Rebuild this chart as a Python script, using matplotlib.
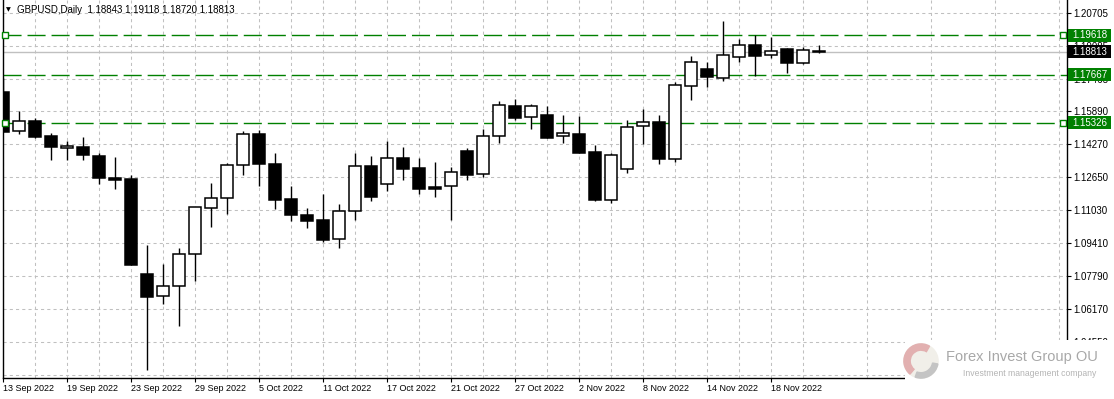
import numpy as np
import pandas as pd
import matplotlib
matplotlib.use("Agg")
import matplotlib.pyplot as plt
from matplotlib.patches import Rectangle, Wedge, Circle
from matplotlib.transforms import blended_transform_factory

# GBPUSD daily candles, 13 Sep 2022 - 23 Nov 2022
opens = [1.1683, 1.1490, 1.1539, 1.1467, 1.1406, 1.1411, 1.1368, 1.1262, 1.1255, 1.0789,
         1.0679, 1.0729, 1.0886, 1.1112, 1.1161, 1.1323, 1.1475, 1.1329, 1.1157, 1.1079,
         1.1054, 1.0959, 1.1097, 1.1318, 1.1229, 1.1357, 1.1308, 1.1215, 1.1219, 1.1391,
         1.1278, 1.1465, 1.1614, 1.1558, 1.1570, 1.1465, 1.1476, 1.1388, 1.1151, 1.1303,
         1.1514, 1.1535, 1.1355, 1.1714, 1.1794, 1.1753, 1.1853, 1.1913, 1.1863, 1.1892,
         1.1823, 1.18843]
highs = [1.1751, 1.1589, 1.1553, 1.1481, 1.1442, 1.1462, 1.1383, 1.1363, 1.1275, 1.0931,
         1.0838, 1.0915, 1.1118, 1.1236, 1.1334, 1.1491, 1.1496, 1.1383, 1.1221, 1.1113,
         1.1182, 1.1133, 1.1385, 1.1368, 1.1442, 1.1413, 1.1359, 1.1339, 1.1314, 1.1406,
         1.1501, 1.1638, 1.1648, 1.1624, 1.1615, 1.1570, 1.1565, 1.1422, 1.1383, 1.1545,
         1.1599, 1.1570, 1.1732, 1.1859, 1.1828, 1.2031, 1.1943, 1.1962, 1.1951, 1.1899,
         1.1905, 1.19118]
lows = [1.1486, 1.1478, 1.1457, 1.1350, 1.1350, 1.1350, 1.1231, 1.1208, 1.0833, 1.0318,
        1.0642, 1.0535, 1.0756, 1.1021, 1.1082, 1.1277, 1.1222, 1.1108, 1.1051, 1.1016,
        1.0946, 1.0918, 1.1054, 1.1149, 1.1198, 1.1252, 1.1183, 1.1169, 1.1056, 1.1252,
        1.1267, 1.1431, 1.1547, 1.1502, 1.1458, 1.1434, 1.1385, 1.1149, 1.1139, 1.1286,
        1.1429, 1.1331, 1.1340, 1.1645, 1.1707, 1.1738, 1.1828, 1.1763, 1.1851, 1.1777,
        1.1819, 1.18720]
closes = [1.1488, 1.1539, 1.1463, 1.1414, 1.1417, 1.1375, 1.1262, 1.1252, 1.0835, 1.0677,
          1.0729, 1.0886, 1.1116, 1.1161, 1.1323, 1.1475, 1.1328, 1.1154, 1.1080, 1.1051,
          1.0957, 1.1097, 1.1318, 1.1169, 1.1357, 1.1306, 1.1208, 1.1208, 1.1288, 1.1277,
          1.1465, 1.1617, 1.1556, 1.1614, 1.1458, 1.1480, 1.1385, 1.1154, 1.1372, 1.1509,
          1.1535, 1.1355, 1.1715, 1.1828, 1.1755, 1.1863, 1.1912, 1.1861, 1.1882, 1.1823,
          1.1887, 1.18813]

dates = pd.bdate_range("2022-09-13", periods=len(opens))
date_labels = [f"{d.day} {d:%b %Y}" for d in dates]

price_ticks = [1.20705, 1.19085, 1.17465, 1.15890, 1.14270, 1.12650, 1.11030,
               1.09410, 1.07790, 1.06170, 1.04550, 1.02930]
# horizontal lines drawn on the chart
level_lines = [1.19618, 1.17667, 1.15326]
bid = closes[-1]

W, H = 1114, 399
fig = plt.figure(figsize=(W / 100, H / 100), dpi=100)
ax = fig.add_axes([3 / W, 21 / H, 1064 / W, 378 / H])
ymin, ymax = 1.02786, 1.21343
ax.set_xlim(0, 66.5)
ax.set_ylim(ymin, ymax)
px = (ymax - ymin) / 378  # one pixel in price units

x = np.arange(len(opens))
o = np.array(opens)
c = np.array(closes)

# grid
ax.set_xticks(x[::4])
ax.set_xticks(np.arange(2, 67, 4), minor=True)
ax.set_xticklabels([date_labels[i] for i in x[::4]], ha="left")
ax.set_yticks(price_ticks)
# lowest grid line sits under the logo, no label there
ax.set_yticklabels([f"{p:.5f}" for p in price_ticks[:-1]] + [""])
ax.grid(True, which="both", color="#c0c0c0", linestyle=(0, (3, 3)), linewidth=0.75)
ax.set_axisbelow(True)

ax.yaxis.tick_right()
ax.tick_params(axis="y", length=3, width=0.8, labelsize=7, pad=1.5)
ax.tick_params(axis="x", which="major", length=3, width=0.8, labelsize=6.5, pad=1.5)
ax.tick_params(axis="x", which="minor", length=0)
for lab in ax.get_xticklabels() + ax.get_yticklabels():
    lab.set_family("Liberation Sans")
ax.spines["top"].set_visible(False)
for s in ["left", "right", "bottom"]:
    ax.spines[s].set_linewidth(1.0)

# bid line
ax.axhline(bid, color="#c0c0c0", lw=1.0, zorder=1)

# level lines
for lv in level_lines:
    ax.axhline(lv, color="#008000", lw=1.0, linestyle=(0, (13, 4.3)), zorder=2)
for lv in [level_lines[0], level_lines[2]]:
    ax.plot([0.125, 66.25], [lv, lv], "s", ms=4, mfc="white", mec="#008000", mew=1.0,
            zorder=6, clip_on=False)

# candles
ax.vlines(x, lows, highs, color="black", lw=1.0, zorder=3)
bottoms = np.minimum(o, c)
heights = np.abs(c - o)
colors = ["white" if cc > oo else "black" for oo, cc in zip(o, c)]
ax.bar(x, heights, bottom=bottoms, width=0.69, color=colors, edgecolor="black",
       linewidth=1.1, zorder=4)

# price boxes on the right scale
tr = blended_transform_factory(ax.transAxes, ax.transData)
boxes = [(level_lines[0], "#008000"), (bid, "black"), (level_lines[1], "#008000"),
         (level_lines[2], "#008000")]
for p, col in boxes:
    ax.add_patch(Rectangle((1 + 1 / 1064, p - 6.5 * px), 43 / 1064, 13 * px,
                           transform=tr, facecolor=col, edgecolor="none",
                           clip_on=False, zorder=10))
    ax.text(1 + 5 / 1064, p, f"{p:.5f}", transform=tr, color="white", fontsize=7,
            family="Liberation Sans", va="center", ha="left", zorder=11, clip_on=False)

# title
fig.text(6 / W, 1 - 10 / H, "\u25bc", fontsize=4.5, va="center", ha="left")
fig.text(17 / W, 1 - 10 / H,
         f"GBPUSD,Daily  {opens[-1]:.5f} {highs[-1]:.5f} {lows[-1]:.5f} {closes[-1]:.5f}",
         fontsize=7, family="Liberation Sans", va="center", ha="left")

# watermark logo area
fig.add_artist(Rectangle((905 / W, 0), 1 - 905 / W, 59 / H, transform=fig.transFigure,
                         facecolor="white", edgecolor="none", zorder=5))
lax = fig.add_axes([903 / W, 20 / H, 36 / W, 36 / H], zorder=6)
lax.set_xlim(-1, 1)
lax.set_ylim(-1, 1)
lax.axis("off")
lax.add_patch(Circle((0, 0), 0.95, color="#f1efe9"))
lax.add_patch(Wedge((0, 0), 0.95, 60, 230, width=0.35, color="#e2b0b0"))
lax.add_patch(Wedge((0, 0), 0.95, 250, 350, width=0.3, color="#c4c4c4"))

fig.text(946 / W, 1 - 357 / H, "Forex Invest Group OU", fontsize=10.5,
         family="Liberation Sans", color="#a8a8a8", va="center", ha="left", zorder=7)
fig.text(963 / W, 1 - 373 / H, "Investment management company", fontsize=6.2,
         family="Liberation Sans", color="#b4b4b4", va="center", ha="left", zorder=7)

fig.savefig("out.png", dpi=100)
